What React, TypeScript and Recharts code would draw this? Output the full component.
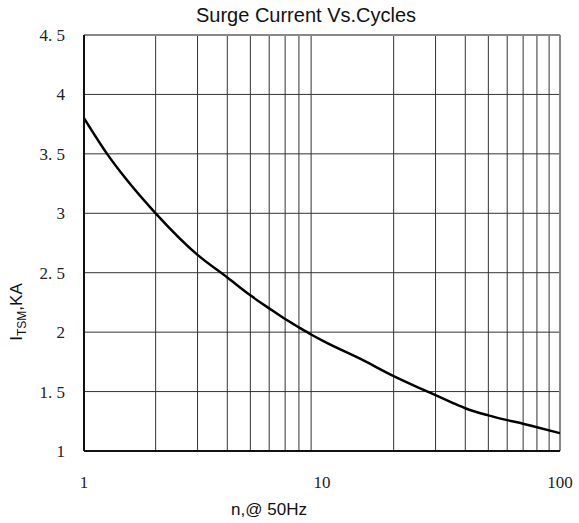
import React from 'react';
import { LineChart, Line, XAxis, YAxis, ReferenceLine, Label } from 'recharts';

const cycles = [1, 1.25, 1.5, 2, 3, 4, 5, 6, 7, 8, 9, 10, 15, 20, 25, 30, 35, 40, 50, 60, 70, 80, 100];
const currentKA = [3.8, 3.5, 3.29, 3.0, 2.65, 2.46, 2.31, 2.2, 2.11, 2.04, 1.98, 1.93, 1.76, 1.63, 1.54, 1.47, 1.41, 1.36, 1.3, 1.26, 1.23, 1.2, 1.15];

const xTicks = [1, 10, 100];
const yTicks = [1, 1.5, 2, 2.5, 3, 3.5, 4, 4.5];
const xGrid = [2, 3, 4, 5, 6, 7, 8, 9, 20, 30, 40, 50, 60, 70, 80, 90];
const yGrid = [1.5, 2, 2.5, 3, 3.5, 4];

const data = cycles.map((n, i) => ({ n, i: currentKA[i] }));

const serif = '"Liberation Serif", "DejaVu Serif", serif';
const sans = '"Liberation Sans", Arial, sans-serif';

const fmtY = (v: number) => (Number.isInteger(v) ? String(v) : v.toFixed(1).replace('.', '. '));

const YTick = (props: any) => (
  <text x={props.x} y={props.y} dy={6} textAnchor="end" fontFamily={serif} fontSize={17} fill="#222">
    {fmtY(props.payload.value)}
  </text>
);

const XTick = (props: any) => (
  <text x={props.x} y={props.y} dy={17} textAnchor="middle" fontFamily={serif} fontSize={17} fill="#222">
    {props.payload.value}
  </text>
);

const YLabel = (props: any) => {
  const vb = props.viewBox;
  const cx = 22;
  const cy = vb.y + vb.height / 2 + 69;
  return (
    <text
      x={cx}
      y={cy}
      transform={`rotate(-90 ${cx} ${cy})`}
      textAnchor="middle"
      fontFamily={sans}
      fontSize={17}
      fill="#111"
    >
      I<tspan fontSize={12} dy={4}>TSM</tspan>
      <tspan dy={-4}>,KA</tspan>
    </text>
  );
};

export default function App() {
  return (
    <div style={{ position: 'absolute', left: 0, top: 0, width: 579, height: 523, background: '#fff' }}>
      <div
        style={{
          position: 'absolute',
          top: 4,
          left: 0,
          width: 612,
          textAlign: 'center',
          fontFamily: sans,
          fontSize: 20,
          color: '#111',
        }}
      >
        Surge Current Vs.Cycles
      </div>
      <div
        style={{
          position: 'absolute',
          top: 500,
          left: 0,
          width: 538,
          textAlign: 'center',
          fontFamily: sans,
          fontSize: 17,
          color: '#111',
        }}
      >
        n,@ 50Hz
      </div>
      <LineChart width={579} height={523} data={data} margin={{ top: 35, right: 19, left: 0, bottom: 0 }}>
        <XAxis
          dataKey="n"
          type="number"
          scale="log"
          domain={[1, 100]}
          ticks={xTicks}
          allowDataOverflow
          height={72}
          tickSize={0}
          tickMargin={20}
          tick={<XTick />}
          axisLine={{ stroke: '#111', strokeWidth: 2 }}
        />
        <YAxis
          type="number"
          domain={[1, 4.5]}
          ticks={yTicks}
          width={84}
          tickSize={0}
          tickMargin={19}
          tick={<YTick />}
          axisLine={{ stroke: '#111', strokeWidth: 2 }}
        >
          <Label content={<YLabel />} />
        </YAxis>
        {xGrid.map((v) => (
          <ReferenceLine key={`x${v}`} x={v} stroke="#333" strokeWidth={1} />
        ))}
        {yGrid.map((v) => (
          <ReferenceLine key={`y${v}`} y={v} stroke="#333" strokeWidth={1} />
        ))}
        <ReferenceLine y={4.5} stroke="#888" strokeWidth={2} />
        <ReferenceLine x={100} stroke="#888" strokeWidth={2} />
        <Line
          dataKey="i"
          type="monotone"
          stroke="#000"
          strokeWidth={2.5}
          dot={false}
          isAnimationActive={false}
        />
      </LineChart>
    </div>
  );
}
